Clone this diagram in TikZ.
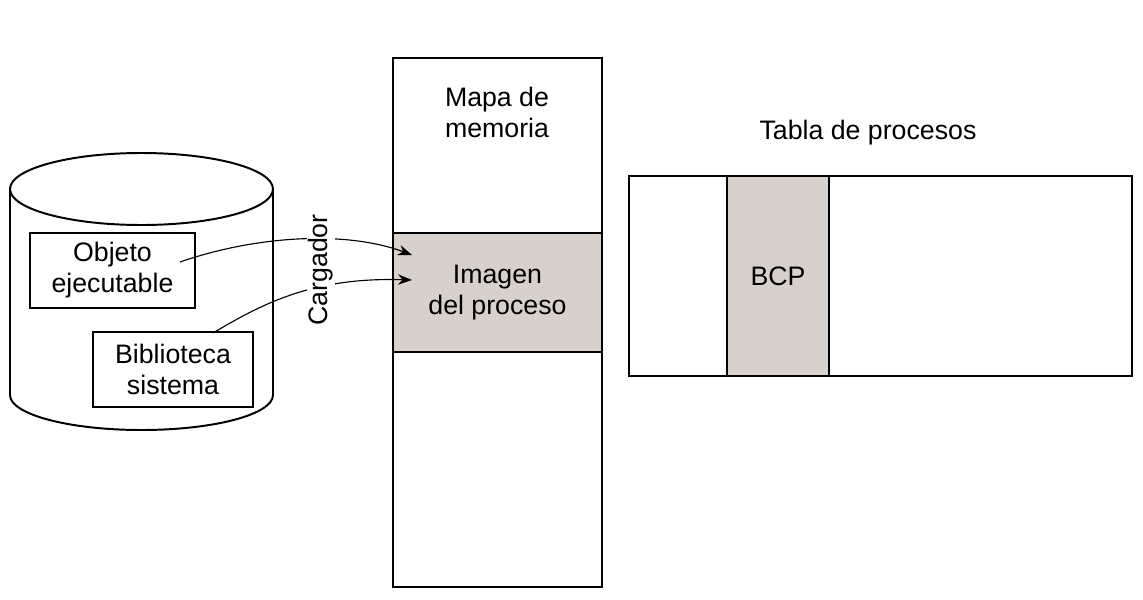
\documentclass[tikz,border=0pt]{standalone}
\usepackage{fontspec}
\setmainfont{Liberation Sans}
\usetikzlibrary{arrows.meta,positioning}
\definecolor{BCGray}{HTML}{D8D0CB}

\begin{document}
\begin{tikzpicture}[x=0.025cm,y=-0.025cm,
  b/.style={draw,line width=1.4pt,inner sep=0pt,font=\fontsize{19}{22}\selectfont,align=center},
  t/.style={font=\fontsize{19}{22}\selectfont,align=center},
  a/.style={-{Stealth[length=3.5mm,width=2.6mm]},line width=0.8pt}]
\useasboundingbox (0,0) rectangle (1143,599);
% disco
\draw[line width=1.4pt] (141.5,189) ellipse [x radius=131.5,y radius=36];
\draw[line width=1.4pt] (10,189) -- (10,395) arc[start angle=180,end angle=0,x radius=131.5,y radius=35] -- (273,189);
\node[b,minimum width=4.125cm,minimum height=1.875cm] (obj) at (112.5,270.5) {Objeto\\ejecutable};
\node[b,minimum width=4cm,minimum height=1.875cm] (bib) at (173,369.5) {Biblioteca\\sistema};
% mapa de memoria
\draw[line width=1.4pt] (393,58) rectangle (602,587);
\node[b,fill=BCGray,minimum width=5.225cm,minimum height=2.975cm] (img) at (497.5,292.5) {Imagen\\del proceso};
\node[t] (mapa) at (497,112) {Mapa de\\memoria};
% tabla de procesos
\node[t] (tit) at (868,133) {Tabla de procesos};
\draw[line width=1.4pt] (629,176) rectangle (1132,376);
\node[b,fill=BCGray,minimum width=2.55cm,minimum height=5cm] (bcp) at (778,276) {BCP};
% cargador
\coordinate (p1) at (180,262);
\coordinate (p2) at (213,333);
\coordinate (q1) at (412,255);
\coordinate (q2) at (412,280);
\draw[a] (p1) .. controls (255,236) and (345,230) .. (q1);
\draw[a] (p2) .. controls (265,302) and (315,277) .. (q2);
\node[t,rotate=90,fill=white,inner sep=1pt] (carg) at (321,270) {Cargador};
\end{tikzpicture}
\end{document}
